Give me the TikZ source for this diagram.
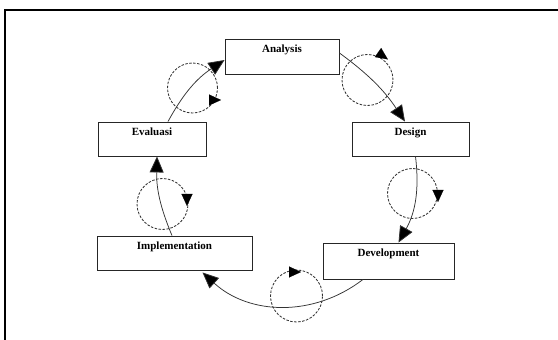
\documentclass[tikz,border=0pt]{standalone}
\usepackage{fontspec}
\setmainfont{Liberation Serif}
\usetikzlibrary{arrows.meta}

\begin{document}
\begin{tikzpicture}[
    x=1pt, y=1pt,
    phase/.style={rectangle, draw=black!85, line width=0.9pt, inner xsep=0pt, inner ysep=0pt, text height=13.5pt, text depth=20.5pt, font=\bfseries\fontsize{11}{12}\selectfont},
    arrow/.style={-{Triangle[length=16pt, width=14pt, fill=black]}, draw=black!80, line width=0.75pt},
    ring/.style={draw=black!80, line width=0.85pt, dash pattern=on 2.5pt off 1.5pt},
    ringtip/.style={-{Triangle[length=12pt, width=11pt]}, draw=black, line width=0.1pt}
]
    \useasboundingbox (0,0) rectangle (558,340);
    \clip (0,0) rectangle (558,340);
    \draw[line width=2pt] (5,-20) -- (5,330) -- (600,330);

    % Phasen
    \node[phase, minimum width=114pt, text depth=21.5pt] (analysis) at (282,283.5) {Analysis};
    \node[phase, minimum width=117pt] (design) at (410.5,201) {Design};
    \node[phase, minimum width=131pt, text depth=22.5pt] (development) at (388.5,79) {Development};
    \node[phase, minimum width=155pt] (implementation) at (174.5,87) {Implementation};
    \node[phase, minimum width=108pt] (evaluasi) at (152,201) {Evaluasi};

    % Kreise
    \coordinate (c1) at (192.5,252);
    \coordinate (c2) at (367.5,260);
    \coordinate (c3) at (412.5,146.5);
    \coordinate (c4) at (296.5,44);
    \coordinate (c5) at (162.5,136);
    \draw[ring] (c1) circle[radius=25];
    \draw[ring] (c2) circle[radius=25.5];
    \draw[ring] (c3) circle[radius=25];
    \draw[ring] (c4) circle[radius=26];
    \draw[ring] (c5) circle[radius=25.5];
    \draw[ringtip] (209,240) -- ++(0:12);
    \draw[ringtip] (378,287.5) -- ++(-35:12);
    \draw[ringtip] (438,150) -- ++(-90:12);
    \draw[ringtip] (289,68) -- ++(0:12);
    \draw[ringtip] (187,146) -- ++(-90:12);

    % Übergänge
    \draw[arrow] ([xshift=16pt]evaluasi.north) to[bend left=14] ([yshift=-3.5pt]analysis.west);
    \draw[arrow] ([yshift=3.5pt]analysis.east) to[bend left=10] ([xshift=-5.5pt]design.north);
    \draw[arrow] ([xshift=5pt]design.south) to[bend left=18] ([xshift=10pt]development.north);
    \draw[arrow] ([xshift=-25.5pt]development.south) to[bend left=40] ([xshift=28pt, yshift=-2pt]implementation.south);
    \draw[arrow] ([xshift=-2.5pt]implementation.north) to[bend left=12] ([xshift=5pt]evaluasi.south);
\end{tikzpicture}
\end{document}
